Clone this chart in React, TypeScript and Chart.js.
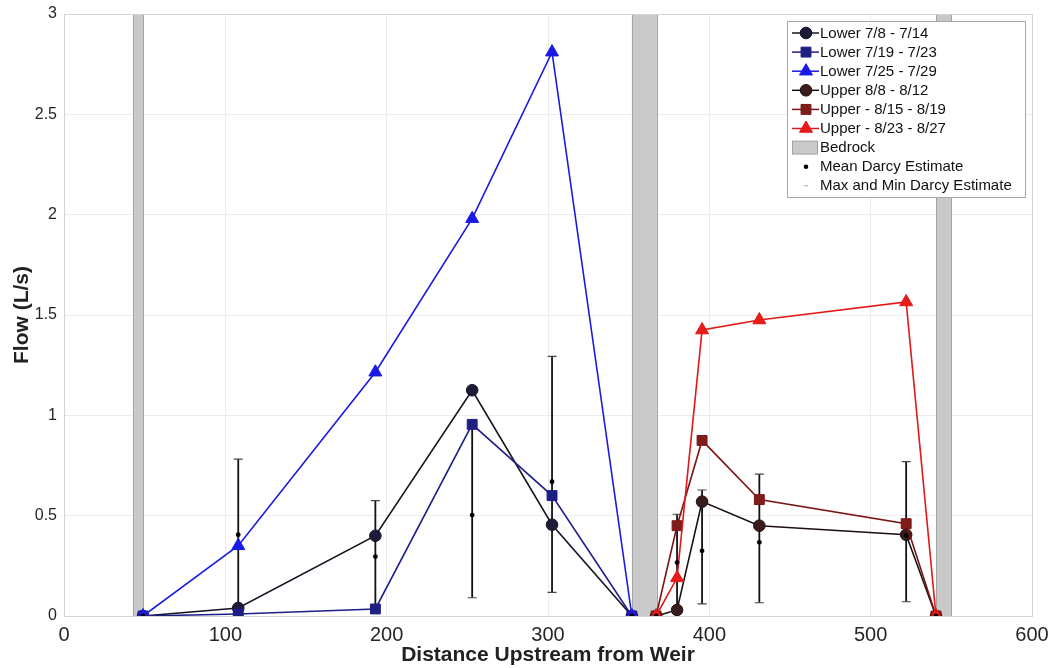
import React, { useEffect, useRef } from "react";
import { Chart, registerables } from "chart.js";

Chart.register(...registerables);

// ---------- data ----------
const lowerX = [49, 108, 193, 253, 302.5, 352];
const upperX = [367, 380, 395.5, 431, 522, 540.5];

const lower78 = [0, 0.04, 0.4, 1.125, 0.455, 0];
const lower719 = [0, 0.01, 0.035, 0.955, 0.6, 0];
const lower725 = [0, 0.35, 1.215, 1.98, 2.81, 0];
const upper88 = [0, 0.03, 0.57, 0.45, 0.405, 0];
const upper815 = [0, 0.45, 0.875, 0.58, 0.46, 0];
const upper823 = [0, 0.19, 1.425, 1.475, 1.565, 0];

const darcyX = [49, 108, 193, 253, 302.5, 352, 367, 380, 395.5, 431, 522, 540.5];
const darcyMean = [0, 0.405, 0.296, 0.503, 0.669, 0, 0, 0.266, 0.325, 0.367, 0.4, 0];
const darcyMax = [0, 0.782, 0.575, 0.95, 1.294, 0, 0, 0.507, 0.628, 0.707, 0.769, 0];
const darcyMin = [0, 0.02, 0.04, 0.091, 0.118, 0, 0, 0.03, 0.06, 0.066, 0.071, 0];

const bedrockStart = [43, 352, 540.5];
const bedrockEnd = [49, 367.5, 550];

const xTicks = [0, 100, 200, 300, 400, 500, 600];
const yTicks = [0, 0.5, 1, 1.5, 2, 2.5, 3];

const seriesLabels = [
  "Lower 7/8 - 7/14",
  "Lower 7/19 - 7/23",
  "Lower 7/25 - 7/29",
  "Upper 8/8 - 8/12",
  "Upper - 8/15 - 8/19",
  "Upper - 8/23 - 8/27",
];
const bedrockLabel = "Bedrock";
const meanLabel = "Mean Darcy Estimate";
const maxMinLabel = "Max and Min Darcy Estimate";

// ---------- styles ----------
const FONT = "'Liberation Sans', Arial, Helvetica, sans-serif";
const styles = [
  { line: "#141424", fill: "#1c1c3a", shape: "circle", r: 5.8 },
  { line: "#1e1e8a", fill: "#1f1f82", shape: "rect", r: 7 },
  { line: "#1a1ae0", fill: "#1a1ae8", shape: "triangle", r: 7.5 },
  { line: "#1c1010", fill: "#3a1c1c", shape: "circle", r: 5.8 },
  { line: "#7c1414", fill: "#7f1d1d", shape: "rect", r: 7 },
  { line: "#e21818", fill: "#e81b1b", shape: "triangle", r: 7.5 },
];
const seriesY = [lower78, lower719, lower725, upper88, upper815, upper823];
const seriesX = [lowerX, lowerX, lowerX, upperX, upperX, upperX];

function drawMarker(ctx: CanvasRenderingContext2D, shape: string, x: number, y: number, r: number) {
  ctx.beginPath();
  if (shape === "circle") {
    ctx.arc(x, y, r, 0, Math.PI * 2);
  } else if (shape === "rect") {
    const s = r * Math.SQRT1_2;
    ctx.rect(x - s, y - s, 2 * s, 2 * s);
  } else {
    let rad = 0;
    ctx.moveTo(x + Math.sin(rad) * r, y - Math.cos(rad) * r);
    rad += (2 * Math.PI) / 3;
    ctx.lineTo(x + Math.sin(rad) * r, y - Math.cos(rad) * r);
    rad += (2 * Math.PI) / 3;
    ctx.lineTo(x + Math.sin(rad) * r, y - Math.cos(rad) * r);
    ctx.closePath();
  }
  ctx.fill();
  ctx.stroke();
}

const backgroundPlugin = {
  id: "bedrockAndErrors",
  beforeDatasetsDraw(chart: any) {
    const { ctx, scales } = chart;
    const xs = scales.x;
    const ys = scales.y;
    ctx.save();
    // bedrock bars
    for (let i = 0; i < bedrockStart.length; i++) {
      const x1 = xs.getPixelForValue(bedrockStart[i]);
      const x2 = xs.getPixelForValue(bedrockEnd[i]);
      const yt = ys.getPixelForValue(3);
      const yb = ys.getPixelForValue(0);
      ctx.fillStyle = "#c9c9c9";
      ctx.fillRect(x1, yt, x2 - x1, yb - yt);
      ctx.strokeStyle = "#a3a3a3";
      ctx.lineWidth = 1;
      ctx.strokeRect(Math.round(x1) + 0.5, Math.round(yt) + 0.5, Math.round(x2 - x1), Math.round(yb - yt));
    }
    // error bars
    ctx.strokeStyle = "#111111";
    ctx.lineWidth = 1.8;
    for (let i = 0; i < darcyX.length; i++) {
      if (darcyMax[i] === darcyMin[i]) continue;
      const x = xs.getPixelForValue(darcyX[i]);
      const yMax = ys.getPixelForValue(darcyMax[i]);
      const yMin = ys.getPixelForValue(darcyMin[i]);
      ctx.beginPath();
      ctx.moveTo(x, yMax);
      ctx.lineTo(x, yMin);
      ctx.stroke();
      ctx.save();
      ctx.lineWidth = 1.2;
      ctx.strokeStyle = "#444";
      ctx.beginPath();
      ctx.moveTo(x - 4.5, yMax);
      ctx.lineTo(x + 4.5, yMax);
      ctx.moveTo(x - 4.5, yMin);
      ctx.lineTo(x + 4.5, yMin);
      ctx.stroke();
      ctx.restore();
    }
    ctx.restore();
  },
  afterDraw(chart: any) {
    const { ctx, chartArea } = chart;
    ctx.save();
    // axes box
    ctx.strokeStyle = "#d4d4d4";
    ctx.lineWidth = 1;
    ctx.strokeRect(Math.round(chartArea.left) + 0.5, Math.round(chartArea.top) + 0.5,
      Math.round(chartArea.right - chartArea.left), Math.round(chartArea.bottom - chartArea.top));

    // legend
    const left = 787, top = 21, w = 238, h = 176;
    ctx.fillStyle = "#ffffff";
    ctx.fillRect(left, top, w, h);
    ctx.strokeStyle = "#a8a8a8";
    ctx.strokeRect(left + 0.5, top + 0.5, w, h);
    const rowH = 19.1;
    const firstY = 33;
    const textX = 820;
    ctx.font = `15px ${FONT}`;
    ctx.textBaseline = "middle";
    ctx.textAlign = "left";
    for (let i = 0; i < seriesLabels.length; i++) {
      const y = firstY + i * rowH;
      const st = styles[i];
      ctx.strokeStyle = st.line;
      ctx.lineWidth = 1.5;
      ctx.beginPath();
      ctx.moveTo(792, y);
      ctx.lineTo(819, y);
      ctx.stroke();
      ctx.fillStyle = st.fill;
      ctx.strokeStyle = st.line;
      ctx.lineWidth = 1;
      drawMarker(ctx, st.shape, 806, y, st.r);
      ctx.fillStyle = "#111";
      ctx.fillText(seriesLabels[i], textX, y + 0.5);
    }
    let y = firstY + 6 * rowH;
    ctx.fillStyle = "#c9c9c9";
    ctx.fillRect(792, y - 6.5, 25, 13);
    ctx.strokeStyle = "#a3a3a3";
    ctx.strokeRect(792.5, y - 6.5, 25, 13);
    ctx.fillStyle = "#111";
    ctx.fillText(bedrockLabel, textX, y + 0.5);
    y = firstY + 7 * rowH;
    ctx.fillStyle = "#000";
    ctx.beginPath();
    ctx.arc(806, y, 2.3, 0, Math.PI * 2);
    ctx.fill();
    ctx.fillStyle = "#111";
    ctx.fillText(meanLabel, textX, y + 0.5);
    y = firstY + 8 * rowH;
    ctx.strokeStyle = "#aaaaaa";
    ctx.lineWidth = 1;
    ctx.beginPath();
    ctx.moveTo(804, y);
    ctx.lineTo(808, y);
    ctx.stroke();
    ctx.fillStyle = "#111";
    ctx.fillText(maxMinLabel, textX, y + 0.5);
    ctx.restore();
  },
};

export default function App() {
  const ref = useRef<HTMLCanvasElement | null>(null);

  useEffect(() => {
    if (!ref.current) return;
    const datasets: any[] = seriesLabels.map((label, i) => ({
      type: "line",
      label,
      data: seriesX[i].map((x, j) => ({ x, y: seriesY[i][j] })),
      borderColor: styles[i].line,
      backgroundColor: styles[i].fill,
      pointBackgroundColor: styles[i].fill,
      pointBorderColor: styles[i].line,
      pointBorderWidth: 1,
      pointStyle: styles[i].shape,
      pointRadius: styles[i].r,
      borderWidth: 1.6,
      tension: 0,
      fill: false,
      order: 10 - i,
    }));
    datasets.push({
      type: "line",
      label: meanLabel,
      data: darcyX.map((x, j) => ({ x, y: darcyMean[j] })),
      showLine: false,
      pointStyle: "circle",
      pointRadius: 2.4,
      pointBackgroundColor: "#000",
      pointBorderColor: "#000",
      pointBorderWidth: 0,
      borderColor: "#000",
      backgroundColor: "#000",
      order: 0,
    });

    const chart = new Chart(ref.current, {
      type: "line",
      data: { datasets },
      options: {
        animation: false,
        responsive: false,
        maintainAspectRatio: false,
        layout: { padding: { top: 14, right: 16, left: 0, bottom: 0 } },
        plugins: { legend: { display: false }, tooltip: { enabled: false } },
        scales: {
          x: {
            type: "linear",
            min: 0,
            max: 600,
            afterBuildTicks: (s: any) => {
              s.ticks = xTicks.map((v) => ({ value: v }));
            },
            afterFit: (s: any) => {
              s.height = 52;
              s.paddingLeft = 0;
              s.paddingRight = 0;
            },
            ticks: {
              padding: 7,
              color: "#262626",
              font: { family: FONT, size: 20 },
              maxRotation: 0,
              callback: (v: any) => String(v),
            },
            grid: { color: "#ececec", lineWidth: 1, drawTicks: false },
            border: { display: true, color: "#c8c8c8" },
            title: {
              display: true,
              text: "Distance Upstream from Weir",
              color: "#222",
              font: { family: FONT, size: 21, weight: "bold" },
              padding: { top: 0, bottom: 0 },
            },
          },
          y: {
            type: "linear",
            min: 0,
            max: 3,
            afterBuildTicks: (s: any) => {
              s.ticks = yTicks.map((v) => ({ value: v }));
            },
            afterFit: (s: any) => {
              s.width = 64;
              s.paddingTop = 0;
              s.paddingBottom = 0;
            },
            ticks: {
              padding: 7,
              color: "#262626",
              font: { family: FONT, size: 16 },
              callback: (v: any) => String(v),
            },
            grid: { color: "#ececec", lineWidth: 1, drawTicks: false },
            border: { display: true, color: "#d4d4d4" },
            title: {
              display: true,
              text: "Flow (L/s)",
              color: "#222",
              font: { family: FONT, size: 21, weight: "bold" },
              padding: { top: 10, bottom: 0 },
            },
          },
        },
      },
      plugins: [backgroundPlugin],
    } as any);
    return () => chart.destroy();
  }, []);

  return (
    <div style={{ position: "fixed", left: 0, top: 0, width: 1048, height: 668, background: "#fff" }}>
      <canvas ref={ref} width={1048} height={668} style={{ display: "block" }} />
    </div>
  );
}
